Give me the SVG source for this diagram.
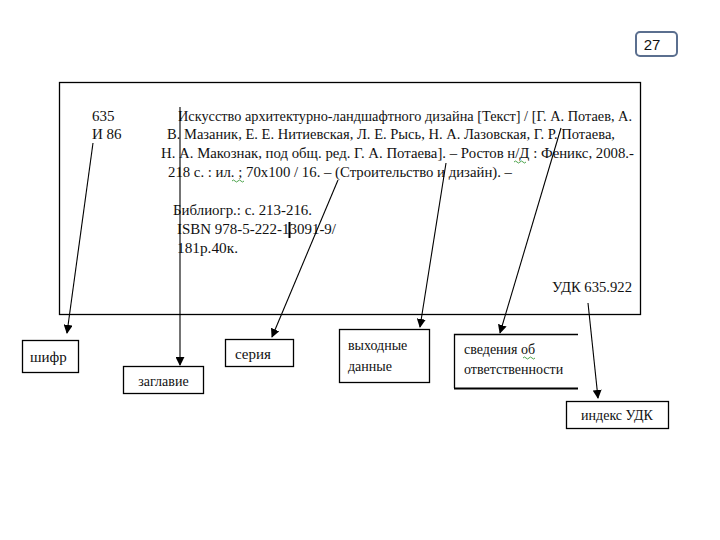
<svg xmlns="http://www.w3.org/2000/svg" width="720" height="540" viewBox="0 0 720 540">
<defs>
<style>
.t{font-family:"Liberation Serif","Times New Roman",serif;font-size:15px;fill:#111}
.b{font-family:"Liberation Serif","Times New Roman",serif;font-size:14px;fill:#111}
.box{fill:#fff;stroke:#000;stroke-width:1.3}
.ln{stroke:#000;stroke-width:1.1;fill:none}
.sq{stroke:#3a9a3a;stroke-width:0.9;fill:none}
</style>
<marker id="ah" viewBox="0 0 10 10" refX="9" refY="5" markerWidth="9" markerHeight="9" markerUnits="userSpaceOnUse" orient="auto">
<path d="M0,0 L10,5 L0,10 z" fill="#000"/>
</marker>
</defs>
<rect width="720" height="540" fill="#fff"/>

<g id="page-number">
<rect x="636" y="32" width="41" height="24" rx="4" fill="#fff" stroke="#5b6f8f" stroke-width="2"/>
<text x="652" y="50" font-family="Liberation Sans, Arial, sans-serif" font-size="15" fill="#111" text-anchor="middle">27</text>
</g>

<g id="card">
<rect x="59.5" y="82.5" width="581" height="232" fill="#fff" stroke="#000" stroke-width="1.3"/>
<text class="t" x="92" y="121">635</text>
<text class="t" x="92" y="139">И 86</text>
<text class="t" x="178" y="121" textLength="454" lengthAdjust="spacingAndGlyphs">Искусство архитектурно-ландшафтного дизайна [Текст] / [Г. А. Потаев, А.</text>
<text class="t" x="167" y="139" textLength="448" lengthAdjust="spacingAndGlyphs">В. Мазаник, Е. Е. Нитиевская, Л. Е. Рысь, Н. А. Лазовская, Г. Р. Потаева,</text>
<text class="t" x="161" y="158" textLength="473" lengthAdjust="spacingAndGlyphs">Н. А. Макознак, под общ. ред. Г. А. Потаева]. – Ростов н/Д : Феникс, 2008.-</text>
<text class="t" x="168" y="177" textLength="344" lengthAdjust="spacingAndGlyphs">218 с. : ил. ; 70x100 / 16. – (Строительство и дизайн). –</text>
<text class="t" x="173" y="215" textLength="139" lengthAdjust="spacingAndGlyphs">Библиогр.: с. 213-216.</text>
<text class="t" x="177" y="234" textLength="159" lengthAdjust="spacingAndGlyphs">ISBN 978-5-222-13091-9/</text>
<text class="t" x="177" y="253" textLength="61" lengthAdjust="spacingAndGlyphs">181р.40к.</text>
<text class="t" x="552" y="292" textLength="80" lengthAdjust="spacingAndGlyphs">УДК 635.922</text>
<rect x="288.5" y="222" width="2" height="16" fill="#000"/>
<path class="sq" d="M232,181 q1.5,-2 3,0 t3,0 t3,0 t3,0"/>
<path class="sq" d="M514,162 q1.5,-2 3,0 t3,0 t3,0 t3,0"/>
</g>

<g id="shifr"><rect class="box" x="22.5" y="340.5" width="56" height="32"/><text class="t" x="30" y="362">шифр</text></g>
<g id="zaglavie"><rect class="box" x="123.5" y="366.5" width="80" height="27"/><text class="b" x="163.5" y="386" text-anchor="middle">заглавие</text></g>
<g id="seriya"><rect class="box" x="225.5" y="339.5" width="68" height="27"/><text class="t" x="235" y="359">серия</text></g>
<g id="vykhodnye"><rect class="box" x="339.5" y="329.5" width="90" height="53"/><text class="b" x="348" y="350" font-size="13">выходные</text><text class="b" x="348" y="371" font-size="13">данные</text></g>
<g id="svedeniya">
<rect x="454.5" y="334.5" width="123" height="54" fill="#fff"/>
<path d="M578,334.5 H454.5 V388" stroke="#000" stroke-width="1.3" fill="none"/>
<path d="M454,388.5 H578" stroke="#000" stroke-width="2.2" fill="none"/>
<text class="b" x="464" y="354" font-size="13.5">сведения об</text>
<text class="b" x="464" y="374" font-size="13.5">ответственности</text>
<path class="sq" d="M523,358 q1.5,-2 3,0 t3,0 t3,0 t3,0"/>
</g>
<g id="indeks"><rect class="box" x="566.5" y="401.5" width="102" height="27"/><text class="b" x="617" y="420" text-anchor="middle">индекс УДК</text></g>

<g id="connectors">
<line class="ln" x1="93" y1="143" x2="67" y2="333" marker-end="url(#ah)"/>
<line class="ln" x1="180" y1="107" x2="180" y2="365" marker-end="url(#ah)"/>
<line class="ln" x1="338" y1="180" x2="272" y2="337" marker-end="url(#ah)"/>
<line class="ln" x1="446" y1="163" x2="420" y2="327" marker-end="url(#ah)"/>
<line class="ln" x1="561" y1="128" x2="500" y2="333" marker-end="url(#ah)"/>
<line class="ln" x1="588" y1="303" x2="598" y2="398" marker-end="url(#ah)"/>
</g>
</svg>
